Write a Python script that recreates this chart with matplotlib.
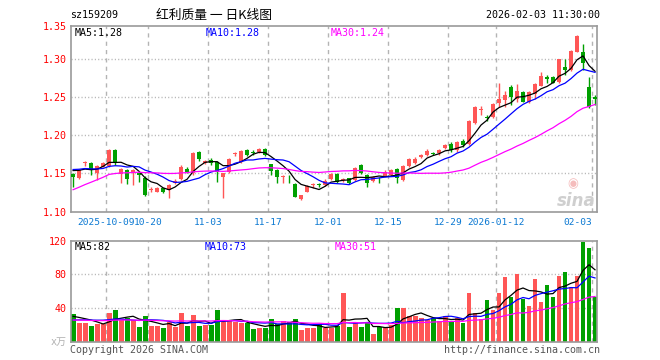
import numpy as np
import matplotlib.pyplot as plt

# daily candles (bar 0 .. 87)
open_p = [1.148, 1.1425, 1.163, 1.1632, 1.150, 1.158, 1.1588, 1.180, 1.1483, 1.1535,
          1.1505, 1.1491, 1.1434, 1.1275, 1.1249, 1.1293, 1.1271, 1.137, 1.1412, 1.155,
          1.1491, 1.1778, 1.1624, 1.1668, 1.1646, 1.1438, 1.1513, 1.175, 1.1646, 1.180,
          1.1778, 1.1778, 1.181, 1.1615, 1.1535, 1.1443, 1.146, 1.135, 1.1147, 1.1249,
          1.1335, 1.134, 1.1337, 1.1412, 1.1483, 1.140, 1.1425, 1.1403, 1.1602, 1.1469,
          1.139, 1.143, 1.1456, 1.1469, 1.1544, 1.1403, 1.1588, 1.1632, 1.1703, 1.1734,
          1.176, 1.1756, 1.1822, 1.188, 1.180, 1.192, 1.188, 1.216, 1.233, 1.223,
          1.2241, 1.2417, 1.2462, 1.2629, 1.247, 1.2572, 1.244, 1.2541, 1.2647, 1.2761,
          1.277, 1.2704, 1.2903, 1.2858, 1.3101, 1.3092, 1.2638, 1.2497]
high_p = [1.150, 1.1545, 1.1655, 1.164, 1.160, 1.1646, 1.181, 1.181, 1.156, 1.155,
          1.1545, 1.150, 1.145, 1.131, 1.131, 1.130, 1.135, 1.141, 1.160, 1.157,
          1.177, 1.179, 1.167, 1.169, 1.166, 1.150, 1.169, 1.1778, 1.180, 1.181,
          1.180, 1.182, 1.182, 1.162, 1.155, 1.147, 1.1469, 1.136, 1.121, 1.134,
          1.1359, 1.136, 1.141, 1.150, 1.150, 1.1425, 1.143, 1.158, 1.161, 1.148,
          1.146, 1.144, 1.153, 1.155, 1.156, 1.160, 1.169, 1.1712, 1.175, 1.181,
          1.178, 1.181, 1.188, 1.190, 1.192, 1.194, 1.220, 1.238, 1.2382, 1.226,
          1.242, 1.2691, 1.2585, 1.266, 1.2673, 1.258, 1.258, 1.268, 1.2836, 1.2792,
          1.278, 1.301, 1.2999, 1.312, 1.332, 1.3202, 1.2761, 1.2528]
low_p = [1.131, 1.141, 1.159, 1.147, 1.1403, 1.157, 1.158, 1.160, 1.1359, 1.1346,
         1.1337, 1.1381, 1.119, 1.125, 1.124, 1.1236, 1.1161, 1.135, 1.140, 1.149,
         1.1469, 1.166, 1.161, 1.160, 1.1381, 1.1161, 1.150, 1.172, 1.163, 1.172,
         1.174, 1.176, 1.172, 1.1469, 1.1359, 1.1359, 1.1368, 1.118, 1.114, 1.124,
         1.1293, 1.131, 1.132, 1.140, 1.137, 1.138, 1.135, 1.139, 1.148, 1.1306,
         1.138, 1.1359, 1.145, 1.146, 1.1359, 1.139, 1.158, 1.162, 1.169, 1.172,
         1.173, 1.174, 1.181, 1.178, 1.178, 1.184, 1.187, 1.214, 1.2263, 1.219,
         1.222, 1.2364, 1.2364, 1.2395, 1.244, 1.243, 1.2417, 1.247, 1.264, 1.2682,
         1.268, 1.269, 1.2792, 1.285, 1.309, 1.2858, 1.2351, 1.2395]
close_p = [1.144, 1.1535, 1.1635, 1.1535, 1.1588, 1.1624, 1.180, 1.1632, 1.1544, 1.1412,
           1.153, 1.1469, 1.1205, 1.128, 1.1302, 1.1245, 1.1337, 1.139, 1.158, 1.1513,
           1.1756, 1.1677, 1.1659, 1.1624, 1.1513, 1.1491, 1.1681, 1.1756, 1.1787, 1.1734,
           1.176, 1.181, 1.1734, 1.1527, 1.1438, 1.145, 1.145, 1.1183, 1.1205, 1.1324,
           1.134, 1.1335, 1.1394, 1.1483, 1.1381, 1.1405, 1.1359, 1.1558, 1.1491, 1.1359,
           1.1447, 1.1425, 1.1513, 1.1535, 1.1425, 1.1588, 1.1677, 1.1677, 1.1734, 1.1791,
           1.1752, 1.180, 1.1866, 1.180, 1.190, 1.187, 1.218, 1.2364, 1.2338, 1.222,
           1.2409, 1.2475, 1.2528, 1.2497, 1.2585, 1.244, 1.2572, 1.2673, 1.2779, 1.274,
           1.2691, 1.2999, 1.2858, 1.311, 1.3308, 1.2947, 1.2364, 1.2475]

# volume (万手)
volume = [32.7, 21.6, 22.4, 18.8, 21.2, 20.4, 33.9, 37.5, 25.6, 27.6,
          25.6, 17.3, 30.4, 18.8, 18.8, 16.1, 22.8, 17.7, 33.9, 18.5,
          31.5, 18.5, 19.6, 19.6, 37.5, 23.6, 24.4, 23.6, 21.6, 21.6,
          14.9, 16.1, 16.1, 26.8, 20.4, 24.4, 22.8, 26.8, 13.7, 16.5,
          16.5, 20.4, 16.5, 16.5, 18.8, 57.7, 17.7, 22.8, 17.3, 22.4,
          8.9, 17.7, 16.5, 19.6, 40.3, 40.3, 30.4, 30.4, 28.4, 25.6,
          27.6, 24.4, 30.4, 22.8, 27.6, 22.4, 57.7, 34.3, 26.4, 49.4,
          37.5, 58.1, 76.4, 53.4, 80.4, 50.2, 42.7, 74.4, 47.4, 67.3,
          53.4, 78.4, 83.1, 64.5, 78.4, 118.9, 111.7, 53.4]

# sessions before the window, only used to feed the moving averages
pre_close = [1.055, 1.058, 1.060, 1.062, 1.064, 1.066, 1.128, 1.132, 1.135, 1.138,
             1.140, 1.136, 1.133, 1.137, 1.141, 1.139, 1.136, 1.138, 1.140, 1.145,
             1.150, 1.154, 1.158, 1.160, 1.156, 1.152, 1.155, 1.158, 1.155]
pre_volume = [26, 24, 28, 25, 23, 27, 26, 24, 25, 28, 26, 23, 27, 25, 26,
              24, 27, 25, 26, 26, 20, 22, 21, 23, 20, 28, 30, 27, 32]

date_labels = ['2025-10-09', '10-20', '11-03', '11-17', '12-01', '12-15',
               '12-29', '2026-01-12', '02-03']
date_index = [6, 13, 23, 33, 43, 53, 63, 71, 87]

price_ticks = [1.15, 1.20, 1.25, 1.30]
vol_ticks = [40, 80]

RED = '#ff5656'
GREEN = '#00a000'
GRID = '#b4b4b4'
MONO = 'DejaVu Sans Mono'
FS = 7.2

W, H = 660, 360


def px_box(x0, y0, x1, y1):
    return [x0 / W, 1 - y1 / H, (x1 - x0) / W, (y1 - y0) / H]


def moving_avg(pre, vals, n):
    s = np.concatenate([pre, vals])
    out = np.convolve(s, np.ones(n) / n, mode='valid')
    return out[-len(vals):]


o = np.array(open_p)
h = np.array(high_p)
l = np.array(low_p)
c = np.array(close_p)
v = np.array(volume)
x = np.arange(len(c))
cols = [RED if cc >= oo else GREEN for oo, cc in zip(o, c)]

fig = plt.figure(figsize=(6.6, 3.6), dpi=100, facecolor='white')
ax = fig.add_axes(px_box(70.7, 26, 596.7, 211.7))
axv = fig.add_axes(px_box(70.7, 240.7, 596.7, 341.5))

# price panel
ax.set_xlim(-0.4, 87.28)
ax.set_ylim(1.0984, 1.344)
for t in price_ticks:
    ax.axhline(t, color=GRID, lw=1, ls=(0, (0.8, 1.6)), zorder=0)
for d in date_index:
    ax.axvline(d - 0.5, color=GRID, lw=1, ls=(0, (3, 3)), zorder=0)

ax.vlines(x, l, h, colors=cols, lw=1, zorder=2)
ax.bar(x, np.maximum(np.abs(c - o), 0.0011), bottom=np.minimum(o, c),
       width=0.68, color=cols, lw=0, zorder=3)

ax.plot(x, moving_avg(pre_close, c, 5), color='black', lw=0.9, zorder=4)
ax.plot(x, moving_avg(pre_close, c, 10), color='#0000ff', lw=0.9, zorder=4)
ax.plot(x, moving_avg(pre_close, c, 30), color='#ff00ff', lw=0.9, zorder=4)

ylo, yhi = ax.get_ylim()
ax.set_yticks([ylo] + price_ticks + [yhi])
ax.set_yticklabels(['1.10', '1.15', '1.20', '1.25', '1.30', '1.35'])
ax.tick_params(axis='y', length=0, pad=3, labelcolor='#ff0000', labelsize=FS)
ax.set_xticks([d - 0.5 for d in date_index])
ax.set_xticklabels(date_labels)
ax.tick_params(axis='x', length=0, pad=4.5, labelcolor='#0a78d2', labelsize=6.8)
ax.get_xticklabels()[-1].set_ha('right')
for lab in ax.get_xticklabels() + ax.get_yticklabels():
    lab.set_family(MONO)

# watermark
ax.text(0.955, 0.15, '\u25c9', transform=ax.transAxes, ha='center', va='center',
        fontsize=9, color='#f5bcbc', family='DejaVu Sans')
ax.text(0.997, 0.06, 'sina', transform=ax.transAxes, ha='right', va='center',
        fontsize=12, fontweight='bold', style='italic', color='#cfcfcf')

# volume panel
axv.set_xlim(-0.4, 87.28)
axv.set_ylim(0, 120)
for t in vol_ticks:
    axv.axhline(t, color=GRID, lw=1, ls=(0, (0.8, 1.6)), zorder=0)
for d in date_index:
    axv.axvline(d - 0.5, color=GRID, lw=1, ls=(0, (3, 3)), zorder=0)
axv.bar(x, v, width=0.82, color=cols, lw=0, zorder=2)
axv.plot(x, moving_avg(pre_volume, v, 5), color='black', lw=0.9, zorder=4)
axv.plot(x, moving_avg(pre_volume, v, 10), color='#0000ff', lw=0.9, zorder=4)
axv.plot(x, moving_avg(pre_volume, v, 30), color='#ff00ff', lw=0.9, zorder=4)
axv.set_xticks([])
axv.set_yticks([40, 80, 120])
axv.set_yticklabels(['40', '80', '120'])
axv.tick_params(axis='y', length=0, pad=3, labelcolor='#ff0000', labelsize=FS)
for lab in axv.get_yticklabels():
    lab.set_family(MONO)
axv.text(-0.008, 0.0, 'x万', transform=axv.transAxes, ha='right', va='center',
         fontsize=FS, color='#b0b0b0', family=[MONO, 'Noto Sans CJK SC'])

for a in (ax, axv):
    for s in a.spines.values():
        s.set_color('#9a9a9a')
        s.set_linewidth(1.2)

# header, legends and footer
def ftext(px, py, s, **kw):
    kw.setdefault('family', MONO)
    kw.setdefault('fontsize', FS)
    fig.text(px / W, 1 - py / H, s, va='center', **kw)

ftext(70, 15, 'sz159209', ha='left')
ftext(213.6, 15, '红利质量 一 日K线图', ha='center', fontsize=9.2,
      family=['Noto Sans CJK SC', 'DejaVu Sans'])
ftext(600, 15, '2026-02-03 11:30:00', ha='right')

ftext(75, 33, 'MA5:1.28', ha='left', color='black')
ftext(206, 33, 'MA10:1.28', ha='left', color='#0000ff')
ftext(331, 33, 'MA30:1.24', ha='left', color='#ff00ff')

ftext(74.5, 246.7, 'MA5:82', ha='left', color='black')
ftext(205, 246.7, 'MA10:73', ha='left', color='#0000ff')
ftext(335, 246.7, 'MA30:51', ha='left', color='#ff00ff')

ftext(70, 350, 'Copyright 2026 SINA.COM', ha='left', color='#555555')
ftext(600, 350, 'http://finance.sina.com.cn', ha='right', color='#555555')

fig.savefig('out.png', dpi=100, facecolor='white')
